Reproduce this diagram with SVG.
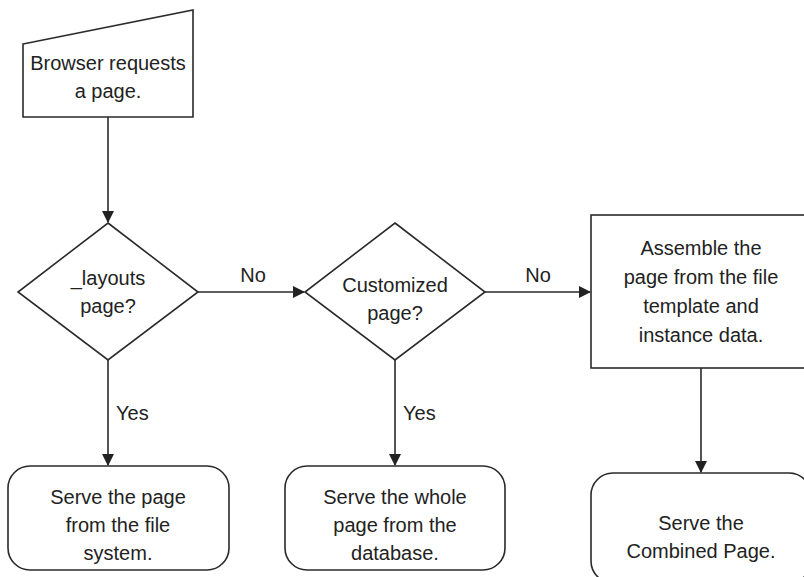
<svg xmlns="http://www.w3.org/2000/svg" width="804" height="577" viewBox="0 0 804 577">
<style>
.s{fill:#fff;stroke:#2a2a2a;stroke-width:1.6}
.c{fill:none;stroke:#2a2a2a;stroke-width:1.6}
text{font-family:"Liberation Sans",Arial,sans-serif;font-size:20px;fill:#222;text-anchor:middle}
.l{text-anchor:start}
</style>
<defs>
<marker id="a" markerWidth="12" markerHeight="12" refX="11" refY="6" orient="auto" markerUnits="userSpaceOnUse">
<path d="M0,0 L12,6 L0,12 z" fill="#222"/>
</marker>
</defs>
<rect width="804" height="577" fill="#fff"/>
<g id="connectors">
<line class="c" x1="108" y1="117" x2="108" y2="222" marker-end="url(#a)"/>
<line class="c" x1="198" y1="292" x2="304" y2="292" marker-end="url(#a)"/>
<line class="c" x1="485" y1="292" x2="590" y2="292" marker-end="url(#a)"/>
<line class="c" x1="108" y1="360" x2="108" y2="465" marker-end="url(#a)"/>
<line class="c" x1="395" y1="360" x2="395" y2="465" marker-end="url(#a)"/>
<line class="c" x1="701" y1="368" x2="701" y2="472" marker-end="url(#a)"/>
<text x="253" y="282">No</text>
<text x="538" y="282">No</text>
<text class="l" x="116" y="420">Yes</text>
<text class="l" x="403" y="420">Yes</text>
</g>
<g id="browser">
<path class="s" d="M23,44 L193,10 L193,117 L23,117 Z"/>
<text x="108" y="70">Browser requests</text>
<text x="108" y="98">a page.</text>
</g>
<g id="layouts">
<path class="s" d="M108,223 L198,292 L108,360 L18,292 Z"/>
<text x="108" y="285">_layouts</text>
<text x="108" y="313">page?</text>
</g>
<g id="customized">
<path class="s" d="M395,223 L485,292 L395,360 L305,292 Z"/>
<text x="395" y="292">Customized</text>
<text x="395" y="320">page?</text>
</g>
<g id="assemble">
<rect class="s" x="591" y="215" width="220" height="153"/>
<text x="701" y="255">Assemble the</text>
<text x="701" y="284">page from the file</text>
<text x="701" y="313">template and</text>
<text x="701" y="342">instance data.</text>
</g>
<g id="serve-file">
<rect class="s" x="8" y="466" width="221" height="104" rx="22"/>
<text x="118" y="504">Serve the page</text>
<text x="118" y="532">from the file</text>
<text x="118" y="560">system.</text>
</g>
<g id="serve-db">
<rect class="s" x="285" y="466" width="220" height="104" rx="22"/>
<text x="395" y="504">Serve the whole</text>
<text x="395" y="532">page from the</text>
<text x="395" y="560">database.</text>
</g>
<g id="serve-combined">
<rect class="s" x="591" y="473" width="220" height="110" rx="22"/>
<text x="701" y="530">Serve the</text>
<text x="701" y="558">Combined Page.</text>
</g>
</svg>
